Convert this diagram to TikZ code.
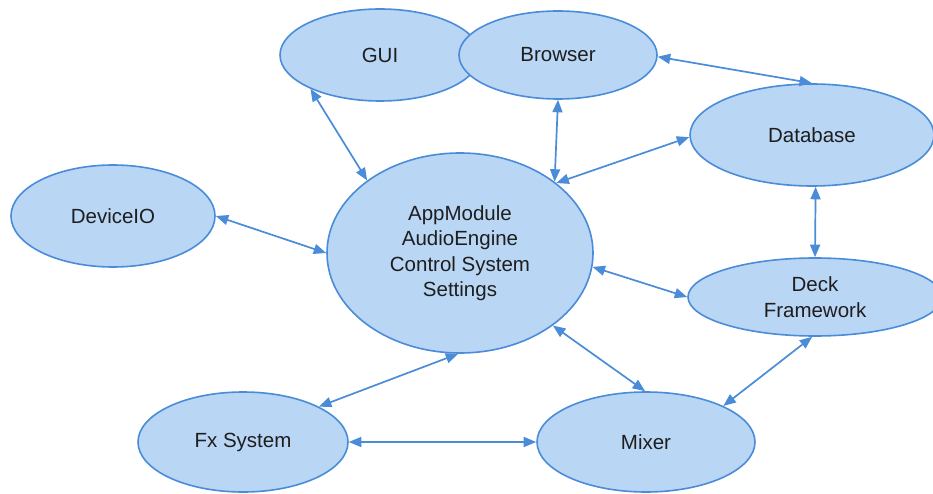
\documentclass[tikz,border=0pt]{standalone}
\usepackage{fontspec}
\setmainfont{Liberation Sans}
\usetikzlibrary{arrows.meta,shapes.geometric}
\definecolor{boxfill}{HTML}{B9D6F5}
\definecolor{boxline}{HTML}{4A8CD8}
\definecolor{txt}{HTML}{1E1E1E}
\tikzset{
  module/.style={ellipse, draw=boxline, fill=boxfill, line width=1.6pt,
    inner sep=0pt, text=txt, align=center,
    font=\fontsize{20.5}{25.5}\selectfont},
  link/.style={draw=boxline, line width=1.7pt,
    {Triangle[length=12.5pt,width=10pt]}-{Triangle[length=12.5pt,width=10pt]}}
}
\begin{document}
\begin{tikzpicture}[x=1pt,y=-1pt]
\useasboundingbox (0,0) rectangle (933,494);

% modules
\node[module, minimum width=200pt, minimum height=92pt]  (gui)     at (380,55)  {GUI};
\node[module, minimum width=198pt, minimum height=88pt]  (browser) at (558,55)  {Browser};
\node[module, minimum width=244pt, minimum height=102pt] (db)      at (812,135) {Database};
\node[module, minimum width=204pt, minimum height=102pt] (dev)     at (113,216) {DeviceIO};
\node[module, minimum width=266pt, minimum height=200pt] (app)     at (460,253) {AppModule\\AudioEngine\\Control System\\Settings};
\node[module, minimum width=254pt, minimum height=78pt]  (deck)    at (815,297) {Deck\\Framework};
\node[module, minimum width=210pt, minimum height=100pt] (fx)      at (243,442) {Fx System};
\node[module, minimum width=218pt, minimum height=100pt] (mixer)   at (646,442) {Mixer};

% dependencies
\draw[link] (gui.206.6)   -- (app.142.5);
\draw[link] (browser.-90) -- (app.37.4);
\draw[link] (db.181.3)    -- (app.36.1);
\draw[link] (browser.-1.1) -- (db.90);
\draw[link] (dev.0.5)     -- (app.180.4);
\draw[link] (db.-86.7)    -- (deck.90);
\draw[link] (app.-6.4)    -- (deck.180);
\draw[link] (deck.-94.3)  -- (mixer.25.4);
\draw[link] (app.-38.2)   -- (mixer.91);
\draw[link] (app.-91.7)   -- (fx.25);
\draw[link] (fx.0)        -- (mixer.180);
\end{tikzpicture}
\end{document}
